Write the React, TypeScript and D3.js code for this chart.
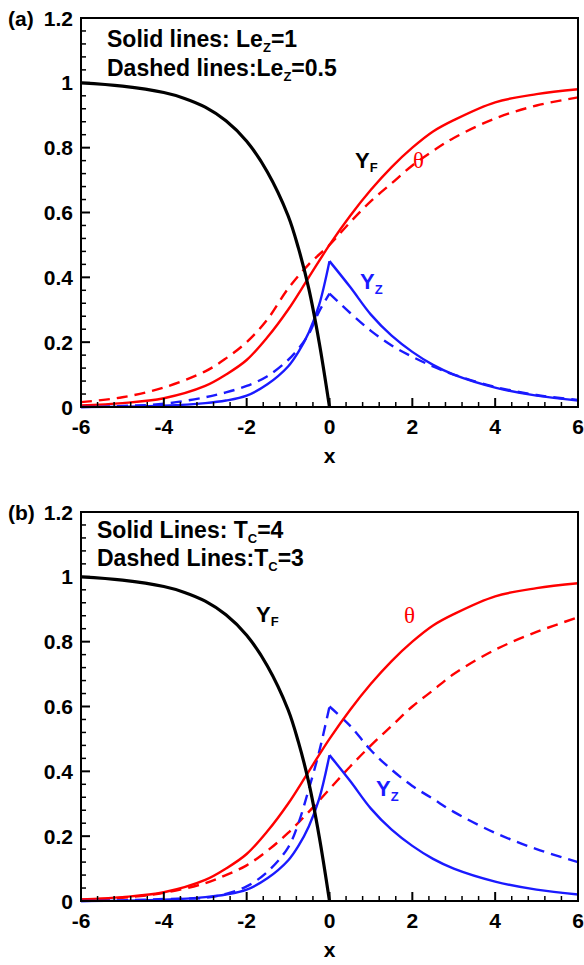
import React from "react";
import * as d3 from "d3";

// ---- data ----
const xLeft = [-6, -5, -4, -3, -2.5, -2, -1.5, -1, -0.75, -0.5, -0.25, 0];
const xRight = [0, 0.5, 1, 1.5, 2, 2.5, 3, 4, 5, 6];
const xFull = [-6, -5, -4, -3, -2.5, -2, -1.5, -1, -0.5, 0, 0.5, 1, 1.5, 2, 2.5, 3, 4, 5, 6];
const xFuel = [-6, -5, -4, -3.5, -3, -2.5, -2, -1.5, -1, -0.75, -0.5, -0.25, 0];

const yF = [1.0, 0.99, 0.97, 0.952, 0.925, 0.883, 0.82, 0.725, 0.59, 0.49, 0.365, 0.2, 0];

const thetaSolid = [0.005, 0.012, 0.027, 0.065, 0.1, 0.145, 0.215, 0.3, 0.4, 0.5, 0.59, 0.67, 0.74, 0.8, 0.85, 0.885, 0.94, 0.965, 0.98];
const thetaDashedA = [0.015, 0.03, 0.06, 0.11, 0.15, 0.2, 0.27, 0.365, 0.44, 0.5, 0.57, 0.635, 0.69, 0.745, 0.79, 0.83, 0.89, 0.93, 0.955];
const thetaDashedB = [0.004, 0.01, 0.025, 0.055, 0.08, 0.11, 0.155, 0.21, 0.275, 0.345, 0.415, 0.48, 0.54, 0.6, 0.65, 0.7, 0.775, 0.83, 0.875];

const yZSolidLeft = [0, 0.001, 0.004, 0.012, 0.02, 0.035, 0.07, 0.125, 0.17, 0.23, 0.315, 0.45];
const yZSolidRight = [0.45, 0.37, 0.285, 0.22, 0.17, 0.13, 0.1, 0.06, 0.035, 0.02];
const yZDashedALeft = [0, 0.003, 0.01, 0.03, 0.045, 0.065, 0.095, 0.145, 0.18, 0.225, 0.295, 0.35];
const yZDashedARight = [0.35, 0.29, 0.235, 0.19, 0.155, 0.125, 0.1, 0.062, 0.037, 0.022];
const yZDashedBLeft = [0, 0.002, 0.006, 0.01, 0.022, 0.045, 0.09, 0.165, 0.24, 0.345, 0.46, 0.6];
const yZDashedBRight = [0.6, 0.54, 0.465, 0.405, 0.355, 0.315, 0.275, 0.21, 0.16, 0.12];

const xTicks = [-6, -4, -2, 0, 2, 4, 6];
const yTicks = [0, 0.2, 0.4, 0.6, 0.8, 1, 1.2];
const yTickLabels = ["0", "0.2", "0.4", "0.6", "0.8", "1", "1.2"];

const RED = "#ff0000";
const BLUE = "#1a1aff";
const FONT = "'Liberation Sans', Arial, sans-serif";

type Series = { xs: number[]; ys: number[]; color: string; dashed: boolean; width: number };

const panels = [
  {
    tag: "(a)",
    top: 18,
    bottom: 407,
    legend1: ["Solid lines: Le", "Z", "=1"],
    legend2: ["Dashed lines:Le", "Z", "=0.5"],
    legendX: 107,
    legendY: [47, 76],
    yfPos: [355, 168],
    thPos: [413, 168],
    yzPos: [360, 289],
    series: [
      { xs: xFull, ys: thetaDashedA, color: RED, dashed: true, width: 2.4 },
      { xs: xLeft, ys: yZDashedALeft, color: BLUE, dashed: true, width: 2.4 },
      { xs: xRight, ys: yZDashedARight, color: BLUE, dashed: true, width: 2.4 },
      { xs: xFull, ys: thetaSolid, color: RED, dashed: false, width: 2.4 },
      { xs: xLeft, ys: yZSolidLeft, color: BLUE, dashed: false, width: 2.4 },
      { xs: xRight, ys: yZSolidRight, color: BLUE, dashed: false, width: 2.4 },
      { xs: xFuel, ys: yF, color: "#000", dashed: false, width: 3.2 },
    ] as Series[],
  },
  {
    tag: "(b)",
    top: 512,
    bottom: 901,
    legend1: ["Solid Lines: T", "C", "=4"],
    legend2: ["Dashed Lines:T", "C", "=3"],
    legendX: 97,
    legendY: [538, 566],
    yfPos: [256, 622],
    thPos: [404, 623],
    yzPos: [376, 796],
    series: [
      { xs: xFull, ys: thetaDashedB, color: RED, dashed: true, width: 2.4 },
      { xs: xLeft, ys: yZDashedBLeft, color: BLUE, dashed: true, width: 2.4 },
      { xs: xRight, ys: yZDashedBRight, color: BLUE, dashed: true, width: 2.4 },
      { xs: xFull, ys: thetaSolid, color: RED, dashed: false, width: 2.4 },
      { xs: xLeft, ys: yZSolidLeft, color: BLUE, dashed: false, width: 2.4 },
      { xs: xRight, ys: yZSolidRight, color: BLUE, dashed: false, width: 2.4 },
      { xs: xFuel, ys: yF, color: "#000", dashed: false, width: 3.2 },
    ] as Series[],
  },
];

const LEFT = 81;
const RIGHT = 578;

function Panel({ p }: { p: (typeof panels)[number] }) {
  const x = d3.scaleLinear().domain([-6, 6]).range([LEFT, RIGHT]);
  const y = d3.scaleLinear().domain([0, 1.2]).range([p.bottom, p.top]);
  const line = d3
    .line<[number, number]>()
    .x((d) => x(d[0]))
    .y((d) => y(d[1]))
    .curve(d3.curveCatmullRom.alpha(0.5));

  const xMinor = d3.range(-6, 6.001, 0.4).filter((v) => !xTicks.some((t) => Math.abs(t - v) < 1e-6));
  const yMinor = d3.range(0, 1.2001, 0.04).filter((v) => !yTicks.some((t) => Math.abs(t - v) < 1e-6));

  return (
    <g>
      <defs>
        <clipPath id={"clip" + p.tag}>
          <rect x={LEFT} y={p.top} width={RIGHT - LEFT} height={p.bottom - p.top} />
        </clipPath>
      </defs>
      <g clipPath={`url(#clip${p.tag})`}>
        {p.series.map((s, i) => (
          <path
            key={i}
            d={line(s.xs.map((v, j) => [v, s.ys[j]] as [number, number])) || ""}
            fill="none"
            stroke={s.color}
            strokeWidth={s.width}
            strokeDasharray={s.dashed ? "11,7" : undefined}
            strokeLinejoin="round"
          />
        ))}
      </g>
      {/* ticks */}
      {xTicks.map((t) => (
        <line key={"xt" + t} x1={x(t)} x2={x(t)} y1={p.bottom} y2={p.bottom - 9} stroke="#000" strokeWidth={2} />
      ))}
      {xMinor.map((t, i) => (
        <line key={"xm" + i} x1={x(t)} x2={x(t)} y1={p.bottom} y2={p.bottom - 5} stroke="#000" strokeWidth={1.5} />
      ))}
      {yTicks.map((t) => (
        <line key={"yt" + t} x1={LEFT} x2={LEFT + 9} y1={y(t)} y2={y(t)} stroke="#000" strokeWidth={2} />
      ))}
      {yMinor.map((t, i) => (
        <line key={"ym" + i} x1={LEFT} x2={LEFT + 5} y1={y(t)} y2={y(t)} stroke="#000" strokeWidth={1.5} />
      ))}
      <rect x={LEFT} y={p.top} width={RIGHT - LEFT} height={p.bottom - p.top} fill="none" stroke="#000" strokeWidth={2} />
      {/* tick labels */}
      <g fontFamily={FONT} fontWeight="bold" fontSize={21} fill="#000">
        {xTicks.map((t) => (
          <text key={"xl" + t} x={x(t)} y={p.bottom + 27} textAnchor="middle">
            {t}
          </text>
        ))}
        {yTicks.map((t, i) => (
          <text key={"yl" + t} x={LEFT - 8} y={y(t) + 7.5} textAnchor="end">
            {yTickLabels[i]}
          </text>
        ))}
        <text x={(LEFT + RIGHT) / 2} y={p.bottom + 56} textAnchor="middle">
          x
        </text>
        <text x={8} y={p.top + 8}>
          {p.tag}
        </text>
      </g>
      <g fontFamily={FONT} fontWeight="bold" fontSize={23} fill="#000">
        <text x={p.legendX} y={p.legendY[0]}>
          {p.legend1[0]}
          <tspan fontSize={13} dy={5}>{p.legend1[1]}</tspan>
          <tspan dy={-5}>{p.legend1[2]}</tspan>
        </text>
        <text x={p.legendX} y={p.legendY[1]}>
          {p.legend2[0]}
          <tspan fontSize={13} dy={5}>{p.legend2[1]}</tspan>
          <tspan dy={-5}>{p.legend2[2]}</tspan>
        </text>
      </g>
      <g fontFamily={FONT} fontWeight="bold" fontSize={22}>
        <text x={p.yfPos[0]} y={p.yfPos[1]} fill="#000">
          Y<tspan fontSize={13} dy={4}>F</tspan>
        </text>
        <text x={p.yzPos[0]} y={p.yzPos[1]} fill={BLUE}>
          Y<tspan fontSize={13} dy={5}>Z</tspan>
        </text>
      </g>
      <text x={p.thPos[0]} y={p.thPos[1]} fill={RED} fontFamily="'Liberation Serif', 'Times New Roman', serif" fontSize={23}>
        θ
      </text>
    </g>
  );
}

export default function App() {
  return (
    <svg width={584} height={965} style={{ position: "absolute", left: 0, top: 0, background: "#fff" }}>
      <rect width={584} height={965} fill="#fff" />
      {panels.map((p) => (
        <Panel key={p.tag} p={p} />
      ))}
    </svg>
  );
}
